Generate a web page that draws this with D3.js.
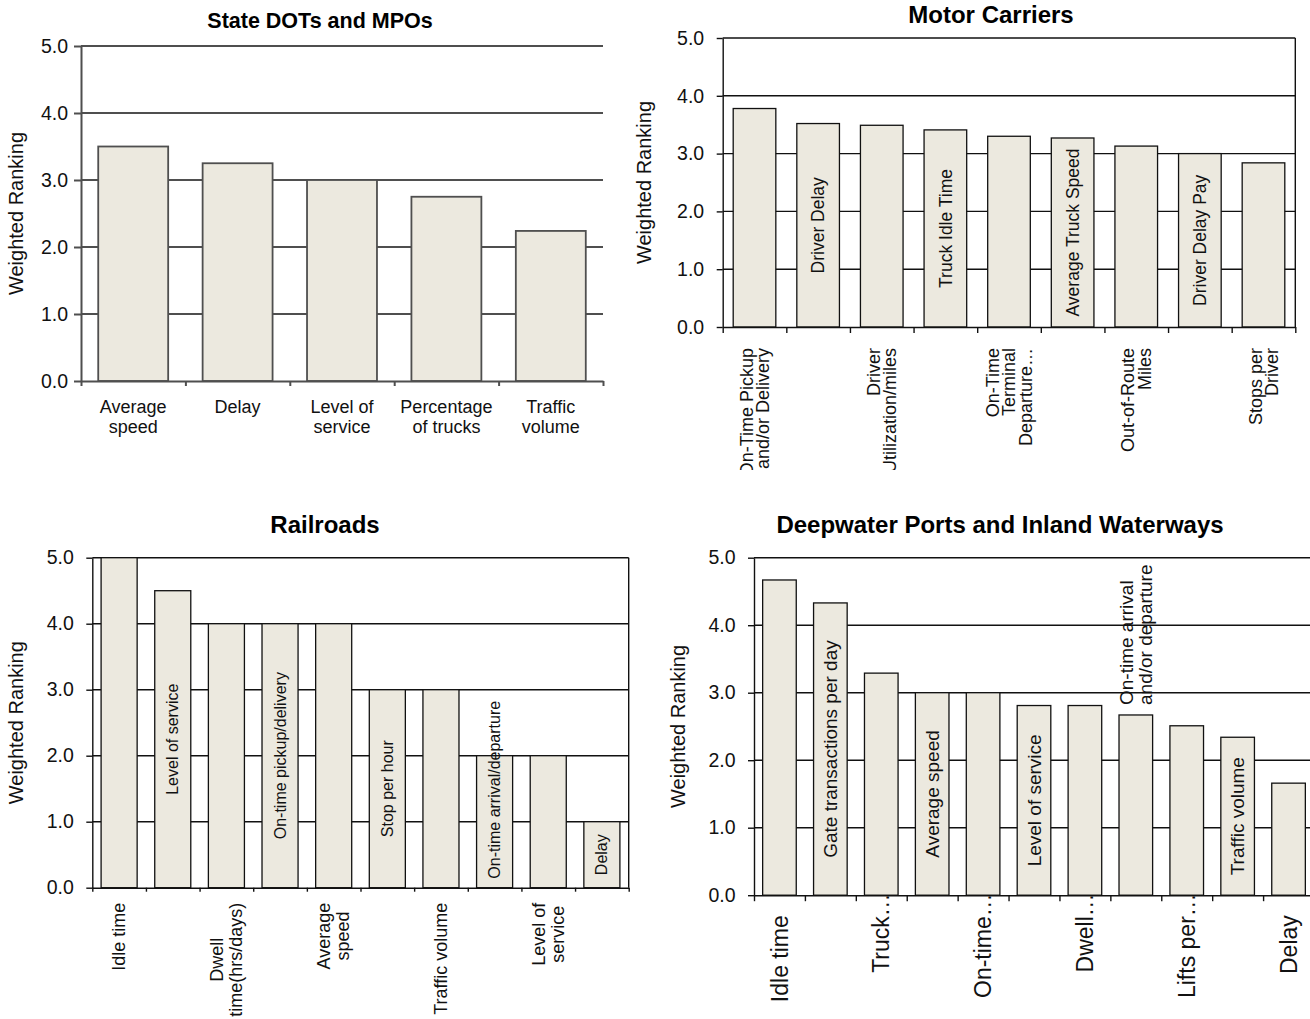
<!DOCTYPE html>
<html>
<head>
<meta charset="utf-8">
<script src="https://cdn.jsdelivr.net/npm/d3@7"></script>
<style>
  body { margin: 0; background: #fff; }
  svg { display: block; font-family: "Liberation Sans", Arial, Helvetica, sans-serif; }
</style>
</head>
<body>
<svg id="chart" width="1310" height="1019"></svg>
<script>
// ---- shared axis ticks ----
const yTickValues = [0, 1, 2, 3, 4, 5];
const yTickLabels = ["0.0", "1.0", "2.0", "3.0", "4.0", "5.0"];
const yTitle = "Weighted Ranking";

// ---- State DOTs and MPOs ----
const dotTitle = "State DOTs and MPOs";
const dotCategories = ["Average speed", "Delay", "Level of service", "Percentage of trucks", "Traffic volume"];
const dotValues = [3.5, 3.25, 3.0, 2.75, 2.24];
const dotAxisLabels = [["Average", "speed"], ["Delay"], ["Level of", "service"], ["Percentage", "of trucks"], ["Traffic", "volume"]];

// ---- Motor Carriers ----
const mcTitle = "Motor Carriers";
const mcCategories = ["On-Time Pickup and/or Delivery", "Driver Delay", "Driver Utilization/miles", "Truck Idle Time",
  "On-Time Terminal Departure", "Average Truck Speed", "Out-of-Route Miles", "Driver Delay Pay", "Stops per Driver"];
const mcValues = [3.78, 3.52, 3.49, 3.41, 3.30, 3.27, 3.13, 3.0, 2.84];
const mcAxisLabels = [["On-Time Pickup", "and/or Delivery"], null, ["Driver", "Utilization/miles"], null,
  ["On-Time", "Terminal", "Departure…"], null, ["Out-of-Route", "Miles"], null, ["Stops per", "Driver"]];
const mcBarLabels = [null, ["Driver Delay"], null, ["Truck Idle Time"], null, ["Average Truck Speed"], null, ["Driver Delay Pay"], null];

// ---- Railroads ----
const rrTitle = "Railroads";
const rrCategories = ["Idle time", "Level of service", "Dwell time(hrs/days)", "On-time pickup/delivery", "Average speed",
  "Stop per hour", "Traffic volume", "On-time arrival/departure", "Level of service", "Delay"];
const rrValues = [5.0, 4.5, 4.0, 4.0, 4.0, 3.0, 3.0, 2.0, 2.0, 1.0];
const rrAxisLabels = [["Idle time"], null, ["Dwell", "time(hrs/days)"], null, ["Average", "speed"], null,
  ["Traffic volume"], null, ["Level of", "service"], null];
const rrBarLabels = [null, ["Level of service"], null, ["On-time pickup/delivery"], null, ["Stop per hour"], null,
  ["On-time arrival/departure"], null, ["Delay"]];

// ---- Deepwater Ports and Inland Waterways ----
const dpTitle = "Deepwater Ports and Inland Waterways";
const dpCategories = ["Idle time", "Gate transactions per day", "Truck", "Average speed", "On-time", "Level of service",
  "Dwell", "On-time arrival and/or departure", "Lifts per", "Traffic volume", "Delay"];
const dpValues = [4.67, 4.33, 3.29, 3.0, 3.0, 2.81, 2.81, 2.67, 2.51, 2.34, 1.66];
const dpAxisLabels = [["Idle time"], null, ["Truck…"], null, ["On-time…"], null, ["Dwell…"], null, ["Lifts per…"], null, ["Delay"]];
const dpBarLabels = [null, ["Gate transactions per day"], null, ["Average speed"], null, ["Level of service"], null,
  ["On-time arrival", "and/or departure"], null, ["Traffic volume"], null];

const barFill = "#ece9df";
const svg = d3.select("#chart");
svg.append("rect").attr("width", 1310).attr("height", 1019).attr("fill", "#fff");

// Rotated (bottom-to-top) multi-line text block; returns the text node and its longest line length.
function rotatedText(g, cx, cy, lines, fs, lh) {
  const t = g.append("text")
    .attr("transform", `translate(${cx},${cy}) rotate(-90)`)
    .attr("font-size", fs).attr("fill", "#111");
  const n = lines.length;
  const spans = lines.map((ln, k) => t.append("tspan")
    .attr("x", 0)
    .attr("y", (k - (n - 1) / 2) * lh + fs * 0.35)
    .text(ln));
  const lens = spans.map(s => s.node().getComputedTextLength());
  return { t, spans, lens, max: d3.max(lens) };
}

function drawPanel(p) {
  const g = svg.append("g");
  if (p.clip) {
    const id = "clip" + Math.round(p.left);
    svg.append("clipPath").attr("id", id).append("rect")
      .attr("x", p.clip[0]).attr("y", p.clip[1]).attr("width", p.clip[2]).attr("height", p.clip[3]);
    g.attr("clip-path", `url(#${id})`);
  }
  const n = p.values.length;
  const x = d3.scaleBand().domain(d3.range(n)).range([p.left, p.right])
    .paddingInner(p.pad).paddingOuter(p.pad / 2);
  const y = d3.scaleLinear().domain([0, 5]).range([p.bottom, p.top]);

  // horizontal gridlines
  g.append("g").selectAll("line").data(yTickValues.filter(v => v > 0)).join("line")
    .attr("x1", p.left).attr("x2", p.right)
    .attr("y1", d => y(d)).attr("y2", d => y(d))
    .attr("stroke", p.line).attr("stroke-width", p.lw);

  if (p.frame) {
    g.append("line").attr("x1", p.right).attr("x2", p.right).attr("y1", p.top).attr("y2", p.bottom)
      .attr("stroke", p.line).attr("stroke-width", p.lw);
  }

  // bars
  g.append("g").selectAll("rect").data(p.values).join("rect")
    .attr("x", (d, i) => x(i)).attr("width", x.bandwidth())
    .attr("y", d => y(d)).attr("height", d => y(0) - y(d))
    .attr("fill", barFill).attr("stroke", p.line).attr("stroke-width", p.barLw);

  // y axis
  const ya = g.append("g").attr("transform", `translate(${p.left},0)`)
    .call(d3.axisLeft(y).tickValues(yTickValues).tickFormat((d, i) => yTickLabels[i])
      .tickSize(p.yTick).tickSizeOuter(0).tickPadding(p.tickPad));
  ya.select(".domain").attr("stroke", p.line).attr("stroke-width", p.lw);
  ya.selectAll(".tick line").attr("stroke", p.line).attr("stroke-width", p.lw);
  ya.selectAll(".tick text").attr("font-size", p.tickFont).attr("fill", "#111")
    .attr("font-family", "'Liberation Sans', Arial, sans-serif");

  // x axis: ticks on category boundaries
  const xb = d3.scaleLinear().domain([0, n]).range([p.left, p.right]);
  const xa = g.append("g").attr("transform", `translate(0,${p.bottom})`)
    .call(d3.axisBottom(xb).tickValues(d3.range(n + 1)).tickFormat("").tickSize(p.xTick).tickSizeOuter(0));
  xa.select(".domain").attr("stroke", p.line).attr("stroke-width", p.lw);
  xa.selectAll(".tick line").attr("stroke", p.line).attr("stroke-width", p.lw);

  // category labels under the axis
  const cx = i => x(i) + x.bandwidth() / 2;
  p.axisLabels.forEach((lines, i) => {
    if (!lines) return;
    if (p.xMode === "horizontal") {
      const t = g.append("text").attr("text-anchor", "middle").attr("font-size", p.xFont).attr("fill", "#111");
      lines.forEach((ln, k) => t.append("tspan").attr("x", cx(i)).attr("y", p.bottom + p.xGap + k * p.xLh).text(ln));
    } else {
      const trunc = lines[lines.length - 1].endsWith("…") && p.truncGap !== undefined;
      const top = p.bottom + (trunc ? p.truncGap : p.xGap);
      const r = rotatedText(g, cx(i), top, lines, p.xFont, p.xLh);
      if (p.xAlign === "center") {
        r.spans.forEach(s => s.attr("text-anchor", "middle").attr("x", -r.max / 2));
      } else {
        r.spans.forEach(s => s.attr("text-anchor", "end"));
      }
    }
  });

  // labels written inside the bars
  if (p.barLabels) {
    p.barLabels.forEach((lines, i) => {
      if (!lines) return;
      const v = p.values[i];
      const h = y(0) - y(v);
      const r = rotatedText(g, cx(i), (y(0) + y(v)) / 2, lines, p.inFont, p.inLh);
      const fits = r.max <= h - 4 && lines.length * p.inLh <= x.bandwidth();
      if (fits) {
        r.spans.forEach(s => s.attr("text-anchor", "middle"));
      } else if (p.fallback === "above") {
        r.t.attr("transform", `translate(${cx(i)},${y(v) - 10}) rotate(-90)`);
        r.spans.forEach(s => s.attr("text-anchor", "start"));
      } else {
        r.t.attr("transform", `translate(${cx(i)},${y(0) - 9}) rotate(-90)`);
        r.spans.forEach(s => s.attr("text-anchor", "start"));
      }
    });
  }

  // y axis title
  svg.append("text")
    .attr("transform", `translate(${p.yTitleX},${(p.top + p.bottom) / 2}) rotate(-90)`)
    .attr("text-anchor", "middle").attr("font-size", 20).attr("fill", "#111")
    .text(yTitle);

  // panel title
  svg.append("text").attr("x", p.titleX).attr("y", p.titleY)
    .attr("text-anchor", "middle").attr("font-size", p.titleFont).attr("font-weight", "bold").attr("fill", "#000")
    .text(p.title);
}

drawPanel({
  title: dotTitle, titleX: 320, titleY: 28, titleFont: 21.5,
  values: dotValues, axisLabels: dotAxisLabels, barLabels: null,
  left: 81, right: 603, top: 46, bottom: 381, pad: 0.33,
  line: "#4f4f4f", lw: 2, barLw: 1.8,
  tickFont: 19.5, yTick: 7, tickPad: 6, xTick: 5,
  xMode: "horizontal", xFont: 18, xGap: 32, xLh: 20,
  yTitleX: 23
});

drawPanel({
  title: mcTitle, titleX: 991, titleY: 23, titleFont: 24,
  values: mcValues, axisLabels: mcAxisLabels, barLabels: mcBarLabels,
  left: 722.7, right: 1295.3, top: 38, bottom: 327, pad: 0.33, frame: true,
  line: "#111", lw: 1.4, barLw: 1.3,
  tickFont: 19.5, yTick: 6, tickPad: 12.5, xTick: 6,
  xMode: "rotated", xAlign: "end", xFont: 18, xGap: 21, xLh: 16.5,
  inFont: 17.5, inLh: 18, fallback: "base",
  clip: [600, 0, 710, 470],
  yTitleX: 651
});

drawPanel({
  title: rrTitle, titleX: 325, titleY: 533, titleFont: 24,
  values: rrValues, axisLabels: rrAxisLabels, barLabels: rrBarLabels,
  left: 92.3, right: 628.7, top: 557.7, bottom: 887.7, pad: 0.328, frame: true,
  line: "#111", lw: 1.4, barLw: 1.3,
  tickFont: 19.5, yTick: 6, tickPad: 12.5, xTick: 4,
  xMode: "rotated", xAlign: "center", xFont: 18, xGap: 15, xLh: 19,
  inFont: 16, inLh: 18, fallback: "base",
  yTitleX: 23
});

drawPanel({
  title: dpTitle, titleX: 1000, titleY: 533, titleFont: 24,
  values: dpValues, axisLabels: dpAxisLabels, barLabels: dpBarLabels,
  left: 754, right: 1314, top: 557.7, bottom: 895.2, pad: 0.34, frame: true,
  line: "#111", lw: 1.4, barLw: 1.3,
  tickFont: 19.5, yTick: 6, tickPad: 12.5, xTick: 6,
  xMode: "rotated", xAlign: "end", xFont: 23, xGap: 20, truncGap: -2, xLh: 23,
  inFont: 19, inLh: 19, fallback: "above",
  yTitleX: 685
});
</script>
</body>
</html>
